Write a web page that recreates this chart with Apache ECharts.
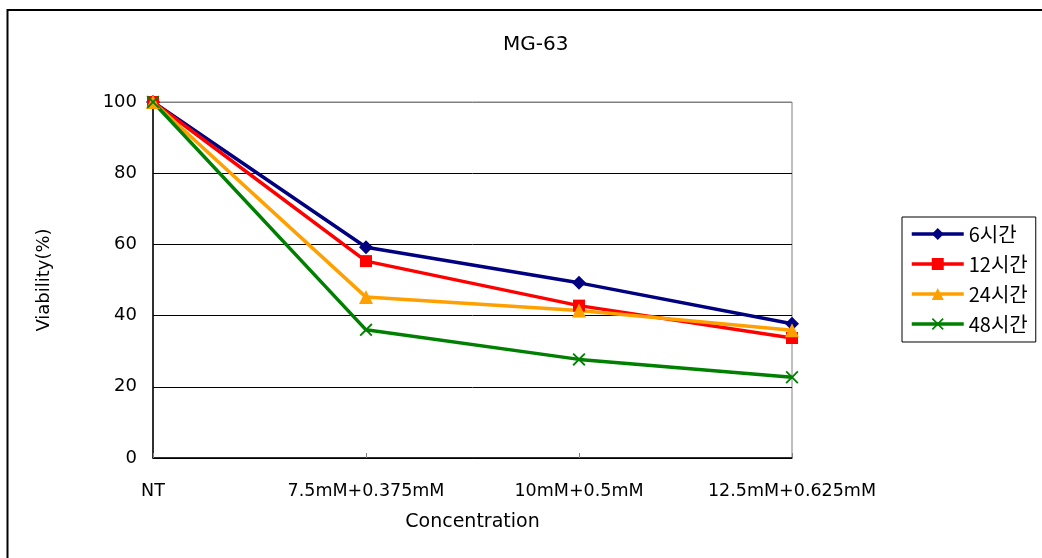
<!DOCTYPE html>
<html>
<head>
<meta charset="utf-8">
<script src="https://cdn.jsdelivr.net/npm/echarts@6/dist/echarts.min.js"></script>
<style>
html, body { margin: 0; padding: 0; background: #fff; }
#main { width: 1042px; height: 558px; }
</style>
</head>
<body>
<div id="main"></div>
<script>
// data
var categories = ['NT', '7.5mM+0.375mM', '10mM+0.5mM', '12.5mM+0.625mM'];
var seriesNames = ['6시간', '12시간', '24시간', '48시간'];
var h6 = [100, 59.2, 49.2, 37.7];
var h12 = [100, 55.3, 42.8, 33.7];
var h24 = [100, 45.2, 41.4, 35.9];
var h48 = [100, 36.0, 27.7, 22.7];

var FONT = "'DejaVu Sans', 'Noto Sans CJK KR', sans-serif";
var KFONT = "'Noto Sans CJK KR', sans-serif";
var crossPath = 'path://M0,1L1,0L5,4L9,0L10,1L6,5L10,9L9,10L5,6L1,10L0,9L4,5Z';

var myChart = echarts.init(document.getElementById('main'));

function mkLine(name, data, color, symbol, size) {
    return {
        name: name,
        type: 'line',
        data: data,
        symbol: symbol,
        symbolSize: size,
        showSymbol: true,
        lineStyle: { color: color, width: 3.5 },
        itemStyle: { color: color },
        emphasis: { disabled: true },
        z: 3
    };
}

option = {
    animation: false,
    textStyle: { fontFamily: FONT },
    graphic: [{
        type: 'rect',
        shape: { x: 7.5, y: 10, width: 1100, height: 600 },
        style: { fill: 'none', stroke: '#000', lineWidth: 2 },
        silent: true
    }],
    title: {
        text: 'MG-63',
        left: 498,
        top: 30,
        textStyle: { fontFamily: FONT, fontSize: 20, fontWeight: 'normal', color: '#000' }
    },
    legend: {
        orient: 'vertical',
        left: 902,
        top: 217,
        data: seriesNames,
        itemWidth: 52,
        itemHeight: 15,
        itemGap: 10,
        padding: [7, 8, 8, 8],
        borderColor: '#000',
        borderWidth: 1,
        lineStyle: { width: 3.5 },
        textStyle: { fontFamily: KFONT, fontSize: 20, color: '#000' }
    },
    grid: {
        left: 153,
        top: 102,
        width: 639,
        height: 356,
        show: true,
        borderColor: '#808080',
        borderWidth: 1,
        containLabel: false
    },
    xAxis: {
        type: 'category',
        data: categories,
        boundaryGap: false,
        name: 'Concentration',
        nameLocation: 'middle',
        nameGap: 55,
        nameTextStyle: { fontFamily: FONT, fontSize: 19, color: '#000' },
        axisLine: { lineStyle: { color: '#000', width: 1.5 } },
        axisTick: { show: true, inside: true, length: 5, interval: 0, lineStyle: { color: '#808080' } },
        axisLabel: { fontFamily: FONT, fontSize: 17.5, color: '#000', margin: 25, interval: 0, hideOverlap: false },
        splitLine: { show: false }
    },
    yAxis: {
        type: 'value',
        min: 0,
        max: 100,
        interval: 20,
        name: 'Viability(%)',
        nameLocation: 'middle',
        nameGap: 100,
        nameTextStyle: { fontFamily: FONT, fontSize: 18, color: '#000' },
        axisLine: { show: true, lineStyle: { color: '#000', width: 1.5 } },
        axisTick: { show: false },
        axisLabel: { fontFamily: FONT, fontSize: 18, color: '#000', margin: 16 },
        splitLine: { show: true, lineStyle: { color: ['#000', '#000', '#000', '#000', '#000', '#808080'], width: 1 } }
    },
    series: [
        mkLine(seriesNames[0], h6, '#000080', 'diamond', 14),
        mkLine(seriesNames[1], h12, '#ff0000', 'rect', 12),
        mkLine(seriesNames[2], h24, '#ffa000', 'triangle', 14),
        mkLine(seriesNames[3], h48, '#008000', crossPath, 13)
    ]
};
myChart.setOption(option);
</script>
</body>
</html>
